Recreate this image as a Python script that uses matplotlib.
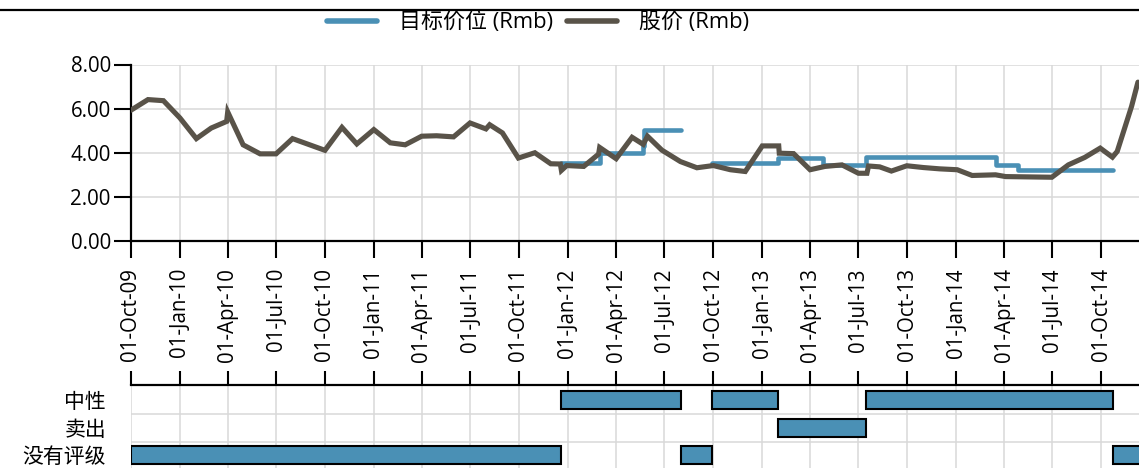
import matplotlib
matplotlib.use('Agg')
import matplotlib.pyplot as plt
import matplotlib.dates as mdates
from matplotlib.lines import Line2D
import numpy as np
import pandas as pd

# ---------------- data ----------------
price_dates = ['2009-10-01', '2009-11-02', '2009-12-01', '2010-01-01', '2010-02-01', '2010-03-01',
               '2010-03-30', '2010-04-01', '2010-04-30', '2010-06-01', '2010-07-01', '2010-08-01',
               '2010-10-01', '2010-11-02', '2010-11-30', '2011-01-01', '2011-02-01', '2011-03-01',
               '2011-04-01', '2011-04-29', '2011-05-31', '2011-07-01', '2011-07-31', '2011-08-07',
               '2011-08-31', '2011-09-30', '2011-10-31', '2011-11-30', '2011-12-18', '2011-12-20',
               '2011-12-30', '2012-01-31', '2012-02-28', '2012-03-01', '2012-04-01', '2012-05-01',
               '2012-05-22', '2012-05-30', '2012-06-26', '2012-07-31', '2012-08-31', '2012-10-01',
               '2012-11-02', '2012-11-30', '2013-01-01', '2013-02-01', '2013-02-02', '2013-03-01',
               '2013-04-01', '2013-04-29', '2013-05-31', '2013-07-01', '2013-07-17', '2013-07-20',
               '2013-08-10', '2013-09-01', '2013-09-30', '2013-10-31', '2013-12-01', '2014-01-03',
               '2014-01-31', '2014-03-16', '2014-04-04', '2014-06-30', '2014-07-31', '2014-08-31',
               '2014-09-29', '2014-10-22', '2014-10-31', '2014-11-27', '2014-12-09']
price_values = [5.93, 6.41, 6.36, 5.58, 4.64, 5.12,
                5.42, 5.85, 4.36, 3.95, 3.95, 4.64,
                4.11, 5.15, 4.40, 5.05, 4.45, 4.36,
                4.75, 4.77, 4.72, 5.35, 5.08, 5.27,
                4.90, 3.76, 4.00, 3.50, 3.49, 3.20,
                3.42, 3.38, 3.94, 4.24, 3.73, 4.70,
                4.38, 4.75, 4.12, 3.60, 3.32, 3.42,
                3.23, 3.15, 4.31, 4.31, 3.98, 3.96,
                3.23, 3.38, 3.45, 3.07, 3.07, 3.40,
                3.36, 3.17, 3.41, 3.33, 3.27, 3.23,
                2.97, 3.00, 2.92, 2.89, 3.45, 3.79,
                4.21, 3.80, 4.06, 6.10, 7.20]

target_dates = ['2011-12-20', '2012-03-02', '2012-05-21', '2012-05-24', '2012-08-01', '2012-08-01',
                '2012-09-28', '2013-01-31', '2013-04-26', '2013-07-15', '2014-03-17', '2014-04-28',
                '2014-10-23']
target_values = [3.55, 4.00, 4.30, 5.05, 5.05, np.nan,
                 3.52, 3.76, 3.45, 3.83, 3.45, 3.23,
                 3.23]

rating_categories = ['没有评级', '卖出', '中性']
rating_start = ['2009-10-01', '2011-12-20', '2012-08-01', '2012-09-28', '2013-01-31', '2013-07-15', '2014-10-23']
rating_end = ['2011-12-20', '2012-08-01', '2012-09-28', '2013-01-31', '2013-07-15', '2014-10-23', '2015-03-01']
rating_value = ['没有评级', '中性', '没有评级', '中性', '卖出', '中性', '没有评级']

tick_dates = pd.date_range('2009-10-01', '2014-10-01', freq='QS-OCT')
x_start, x_end = '2009-10-01', '2014-12-11'
y_ticks = [0, 2, 4, 6, 8]

legend_labels = ['目标价位 (Rmb)', '股价 (Rmb)']

# ---------------- style ----------------
plt.rcParams['font.family'] = ['Open Sans', 'Noto Sans CJK SC']
BLUE = '#4a90b5'
BROWN = '#595349'
GRID = '#d9d9d9'
FS = 14.8

W, H = 1139, 468
fig = plt.figure(figsize=(W / 100, H / 100), dpi=100)
ax = fig.add_axes([131 / W, 1 - 241 / H, 1 - 131 / W, (241 - 64.5) / H])
ax2 = fig.add_axes([131 / W, 0, 1 - 131 / W, (468 - 385) / H])

xlim = (mdates.date2num(pd.Timestamp(x_start)), mdates.date2num(pd.Timestamp(x_end)))
tick_num = mdates.date2num(tick_dates)

# main chart
ax.plot(mdates.date2num(pd.to_datetime(target_dates)), target_values, drawstyle='steps-post',
        color=BLUE, lw=3.3, solid_capstyle='round', zorder=3)
ax.plot(mdates.date2num(pd.to_datetime(price_dates)), price_values, color=BROWN, lw=3.7,
        solid_capstyle='round', solid_joinstyle='miter', zorder=4)
ax.set_xlim(*xlim)
ax.set_ylim(0, 8)
ax.set_yticks(y_ticks)
ax.set_yticklabels([f'{v:.2f}' for v in y_ticks], fontsize=FS)
ax.set_xticks(tick_num)
ax.set_xticklabels([d.strftime('%d-%b-%y') for d in tick_dates], rotation=90, fontsize=FS, va='top')
ax.tick_params(axis='y', length=12.5, width=1.5, color='black', pad=2)
ax.tick_params(axis='x', length=12.5, width=1.5, color='black', pad=7)
ax.grid(True, color=GRID, lw=1.1)
ax.set_axisbelow(True)
for s in ['top', 'right']:
    ax.spines[s].set_visible(False)
for s in ['left', 'bottom']:
    ax.spines[s].set_linewidth(1.6)
    ax.spines[s].set_color('black')

# rating panel
cat_idx = {c: i for i, c in enumerate(rating_categories)}
starts = mdates.date2num(pd.to_datetime(rating_start))
ends = mdates.date2num(pd.to_datetime(rating_end))
ax2.barh([cat_idx[v] for v in rating_value], ends - starts, left=starts, height=0.65,
         color=BLUE, edgecolor='black', linewidth=1.5, zorder=3)
ax2.set_xlim(*xlim)
ax2.set_ylim(-0.46, 2.56)
ax2.set_yticks(range(len(rating_categories)))
ax2.set_yticklabels(rating_categories, fontsize=15)
ax2.set_yticks([0.5, 1.5], minor=True)
ax2.tick_params(axis='y', which='both', length=0, pad=18)
ax2.set_xticks(tick_num)
ax2.xaxis.tick_top()
ax2.tick_params(axis='x', direction='out', length=10, width=1.5, color='black',
                labeltop=False, labelbottom=False)
ax2.grid(True, axis='x', which='major', color=GRID, lw=1.1)
ax2.grid(True, axis='y', which='minor', color=GRID, lw=1.1)
ax2.set_axisbelow(True)
for s in ['left', 'right', 'bottom']:
    ax2.spines[s].set_visible(False)
ax2.spines['top'].set_linewidth(1.6)
ax2.spines['top'].set_color('black')

# top rule
fig.add_artist(Line2D([0, 1], [1 - 10 / H, 1 - 10 / H], transform=fig.transFigure,
                      color='black', lw=1.6))

# legend
handles = [Line2D([], [], color=BLUE, lw=4, solid_capstyle='round'),
           Line2D([], [], color=BROWN, lw=4, solid_capstyle='round')]
fig.legend(handles, legend_labels, loc='center', bbox_to_anchor=(538 / W, 1 - 22.5 / H), ncol=2,
           frameon=False, fontsize=15.8, handlelength=2.3, handletextpad=1.0, columnspacing=0.6,
           borderpad=0, borderaxespad=0)

fig.savefig('out.png', dpi=100)
